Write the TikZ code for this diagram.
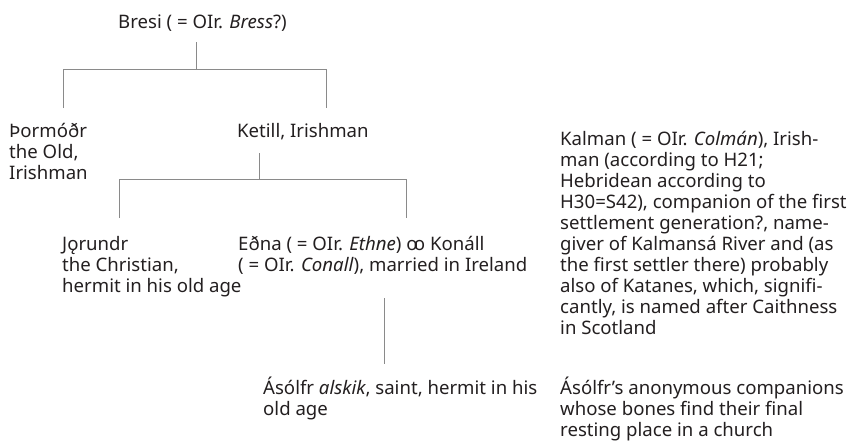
\documentclass[tikz,border=0pt]{standalone}
\usepackage{fontspec}
\setmainfont{Noto Sans}
\definecolor{TreeGray}{HTML}{8A8A8A}
\definecolor{TreeText}{HTML}{231F20}

\begin{document}
\begin{tikzpicture}[x=1pt,y=-1pt,
  person/.style={anchor=base west,align=left,inner sep=0pt,text=TreeText,font=\fontsize{18.6}{21}\selectfont},
  kin/.style={TreeGray,line width=.8pt}]
  \useasboundingbox (0,0) rectangle (858,442);
  % generation 1 (multi-line nodes sit on the baseline of their last line)
  \node[person] (bresi) at (118,28) {Bresi ( = OIr. \textit{Bress}?)};
  \coordinate (b1) at (196,42); \coordinate (b2) at (196,69);
  \coordinate (b3) at (63,69); \coordinate (b4) at (326,69);
  \coordinate (b5) at (63,108); \coordinate (b6) at (326,108);
  \draw[kin] (b1) -- (b2); \draw[kin] (b5) -- (b3) -- (b4) -- (b6);
  % generation 2
  \node[person] (thormodr) at (9,179) {Þormóðr\\the Old,\\Irishman};
  \node[person] (ketill) at (237,137) {Ketill, Irishman};
  \coordinate (k1) at (259,153); \coordinate (k2) at (259,179);
  \coordinate (k3) at (119,179); \coordinate (k4) at (406,179);
  \coordinate (k5) at (119,218); \coordinate (k6) at (406,218);
  \draw[kin] (k1) -- (k2); \draw[kin] (k5) -- (k3) -- (k4) -- (k6);
  \node[person] (kalman) at (560,334) {Kalman ( = OIr. \textit{Colmán}), Irish-\\man (according to H21;\\Hebridean according to\\H30=S42), companion of the first\\settlement generation?, name-\\giver of Kalmansá River and (as\\the first settler there) probably\\also of Katanes, which, signifi-\\cantly, is named after Caithness\\in Scotland};
  % generation 3
  \node[person] (jorundr) at (62,292) {Jǫrundr\\the Christian,\\hermit in his old age};
  \node[person] (edna) at (238,271) {Eðna ( = OIr. \textit{Ethne}) ꝏ Konáll\\( = OIr. \textit{Conall}), married in Ireland};
  \coordinate (e1) at (384,298); \coordinate (e2) at (384,364);
  \draw[kin] (e1) -- (e2);
  % generation 4
  \node[person] (asolfr) at (263,415) {Ásólfr \textit{alskik}, saint, hermit in his\\old age};
  \node[person] (companions) at (560,436) {Ásólfr’s anonymous companions\\whose bones find their final\\resting place in a church};
\end{tikzpicture}
\end{document}
